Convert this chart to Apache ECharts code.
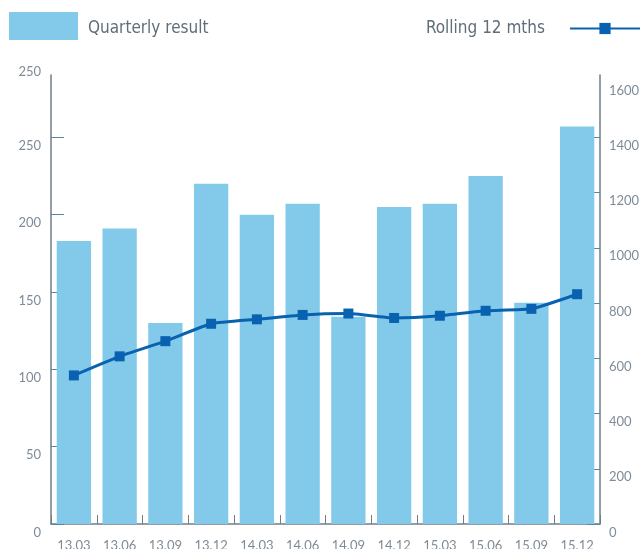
<!DOCTYPE html>
<html>
<head>
<meta charset="utf-8">
<script src="https://cdn.jsdelivr.net/npm/echarts@6/dist/echarts.min.js"></script>
<style>
html,body{margin:0;padding:0;background:#fff;}
#c{width:641px;height:549px;}
</style>
</head>
<body>
<div id="c"></div>
<script>
const categories = ['13.03','13.06','13.09','13.12','14.03','14.06','14.09','14.12','15.03','15.06','15.09','15.12'];
const quarterly = [183, 191, 130, 220, 200, 207, 134, 205, 207, 225, 143, 257];
const rolling = [538, 607, 662, 725, 741, 757, 762, 746, 754, 772, 779, 832];
const leftTicks = [0, 50, 100, 150, 200, 250];
const leftMax = 290.3;
const leftTopLabel = '250';
const rightTicks = [0, 200, 400, 600, 800, 1000, 1200, 1400, 1600];
const rightMax = 1625.7;
const barName = 'Quarterly result';
const lineName = 'Rolling 12 mths';

const axisColor = '#6f7d89';
const tickColor = '#5a87a0';
const labelColor = '#7f8b97';
const legendColor = '#5f6e7a';
const labelFont = 'Lato';
const legendFont = "'Liberation Sans Narrow', 'DejaVu Sans Condensed', Roboto, sans-serif";

const legendRich = {
  a: {fontFamily: legendFont, fontSize: 17, color: legendColor, padding: [5, 0, 0, 5]},
  b: {fontFamily: legendFont, fontSize: 17, color: legendColor, padding: [0, 20, 0, 0]}
};

const chart = echarts.init(document.getElementById('c'), null, {renderer: 'canvas'});
chart.setOption({
  animation: false,
  backgroundColor: '#ffffff',
  grid: {left: 51, right: 41, top: 75, bottom: 25, containLabel: false, outerBoundsMode: 'none'},
  legend: [
    {
      data: [barName], left: 9, top: 12, itemWidth: 69, itemHeight: 28, icon: 'rect',
      padding: 0,
      formatter: '{a|{name}}',
      textStyle: {fontFamily: legendFont, fontSize: 17, color: legendColor, rich: legendRich}
    },
    {
      data: [lineName], right: 0, top: 20, itemWidth: 70, itemHeight: 14, align: 'right',
      padding: 0,
      formatter: '{b|{name}}',
      textStyle: {fontFamily: legendFont, fontSize: 17, color: legendColor, rich: legendRich}
    }
  ],
  xAxis: {
    type: 'category',
    data: categories,
    boundaryGap: true,
    axisLine: {show: true, lineStyle: {color: axisColor, width: 1.5}},
    axisTick: {show: true, inside: true, length: 9, lineStyle: {color: axisColor}},
    axisLabel: {margin: 15, fontFamily: labelFont, fontSize: 13, color: labelColor},
    splitLine: {show: false}
  },
  yAxis: [
    {
      type: 'value', min: 0, max: leftMax, interval: 50, position: 'left',
      axisLine: {show: true, lineStyle: {color: axisColor, width: 1.5}},
      axisTick: {show: true, inside: true, length: 13, lineStyle: {color: tickColor}, customValues: leftTicks},
      axisLabel: {
        margin: 10, fontFamily: labelFont, fontSize: 13, color: labelColor,
        customValues: leftTicks.concat([leftMax]),
        formatter: function (v) { return v > leftTicks[leftTicks.length - 1] ? '{t|' + leftTopLabel + '}' : '{n|' + v + '}'; },
        rich: {
          n: {fontFamily: labelFont, fontSize: 13, color: labelColor, padding: [17, 0, 0, 0]},
          t: {fontFamily: labelFont, fontSize: 13, color: labelColor, padding: [0, 0, 6, 0]}
        }
      },
      splitLine: {show: false}
    },
    {
      type: 'value', min: 0, max: rightMax, interval: 200, position: 'right',
      axisLine: {show: true, lineStyle: {color: axisColor, width: 1.5}},
      axisTick: {show: true, inside: true, length: 13, lineStyle: {color: tickColor}, customValues: rightTicks.slice(0, -1)},
      axisLabel: {
        margin: 9, fontFamily: labelFont, fontSize: 13, color: labelColor,
        customValues: rightTicks,
        formatter: function (v) { return '{n|' + v + '}'; },
        rich: {
          n: {fontFamily: labelFont, fontSize: 13, color: labelColor, padding: [17, 0, 0, 0]}
        }
      },
      splitLine: {show: false}
    }
  ],
  series: [
    {
      name: barName, type: 'bar', data: quarterly, yAxisIndex: 0,
      barWidth: '75%',
      itemStyle: {color: '#83caea'}
    },
    {
      name: lineName, type: 'line', data: rolling, yAxisIndex: 1,
      smooth: 0.15,
      symbol: 'rect', symbolSize: 10,
      lineStyle: {color: '#0862b0', width: 3},
      itemStyle: {color: '#0862b0'},
      z: 5
    }
  ]
});
</script>
</body>
</html>
